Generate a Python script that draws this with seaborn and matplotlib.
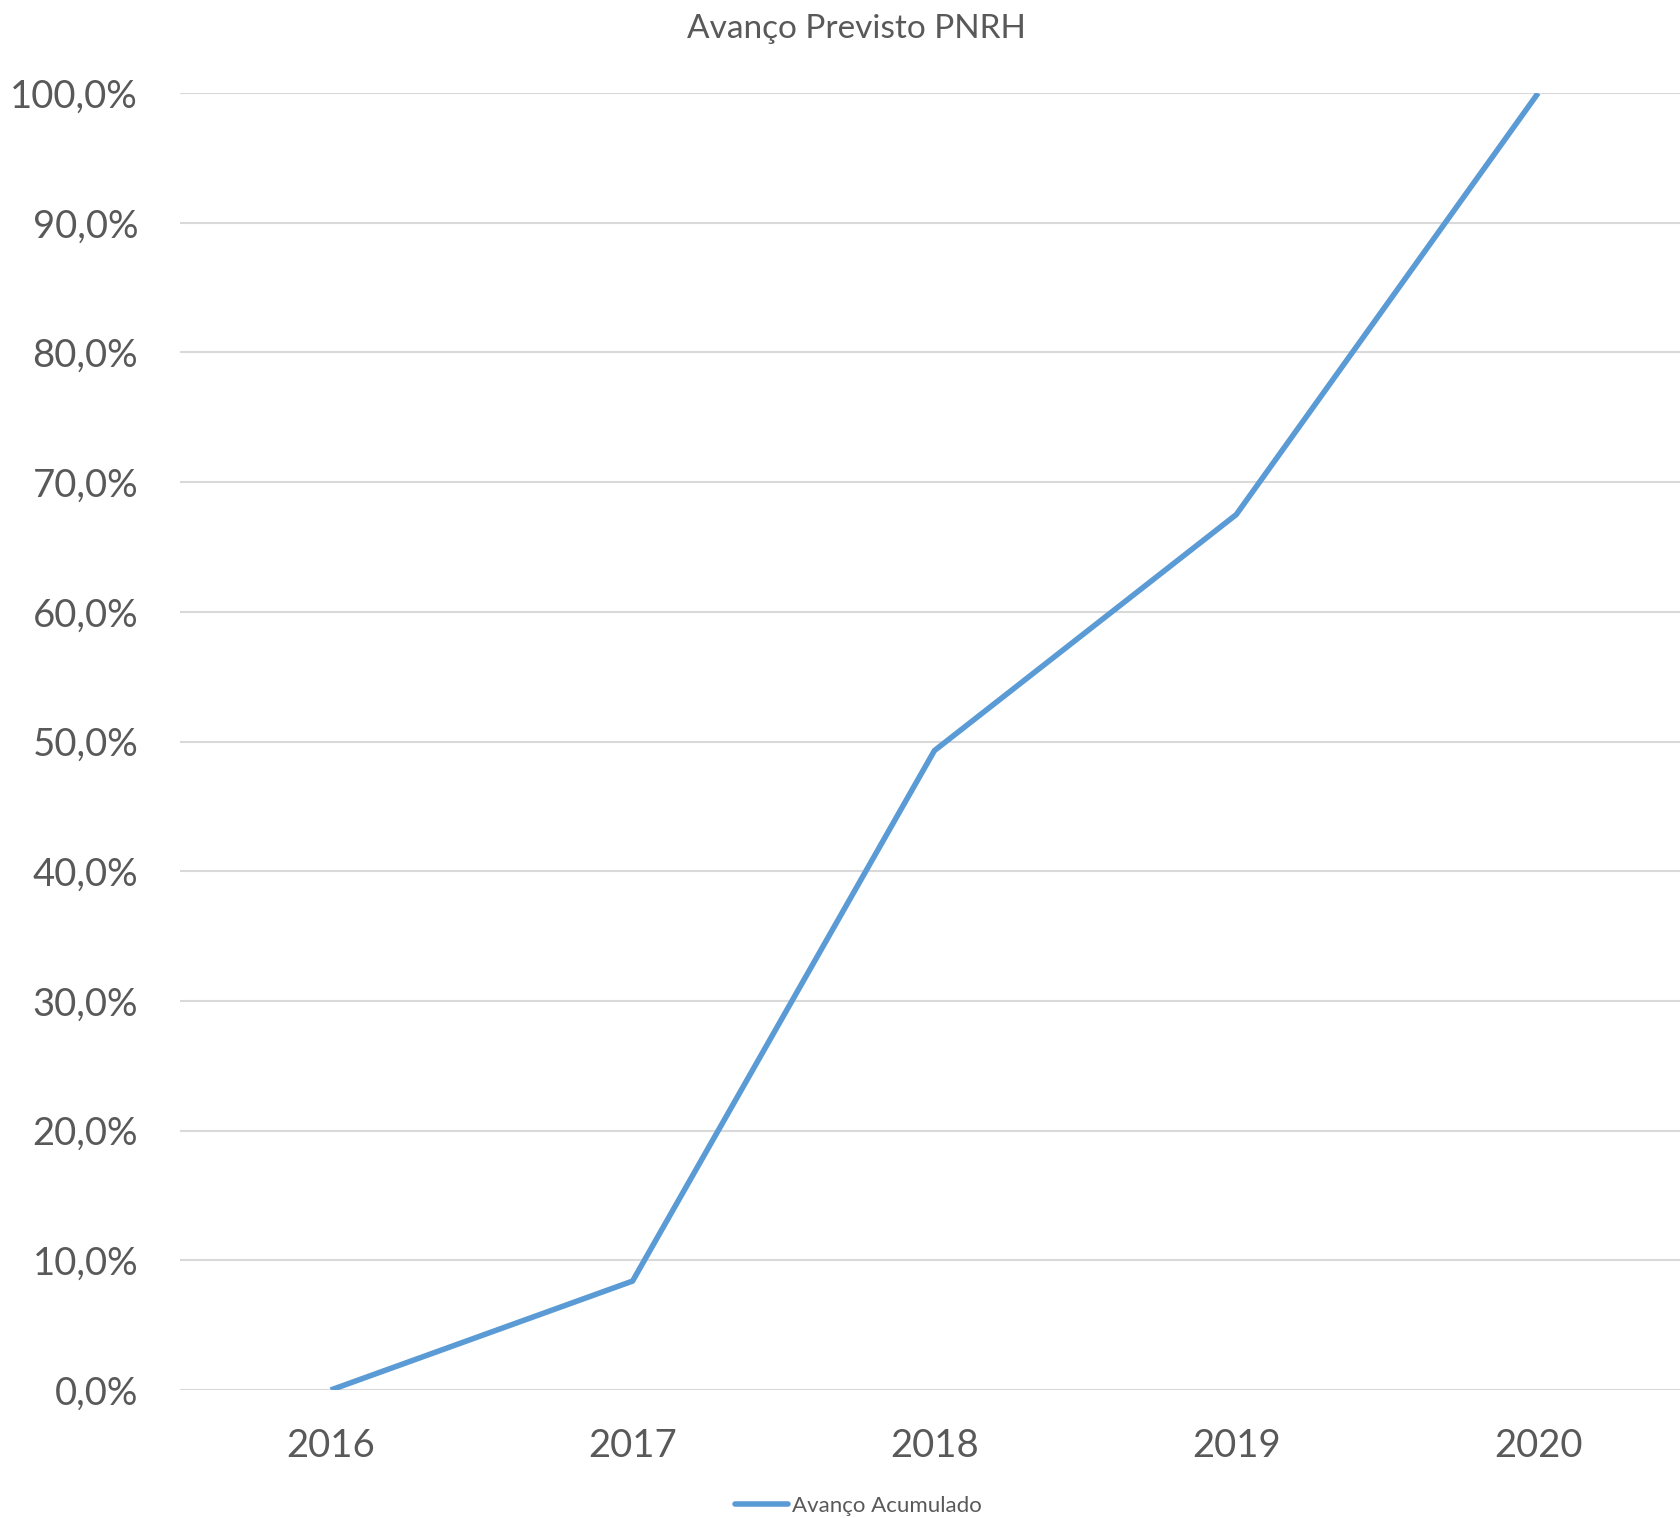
import matplotlib
matplotlib.use("Agg")
import matplotlib.pyplot as plt
import seaborn as sns
import pandas as pd
from matplotlib.ticker import FuncFormatter

sns.set_style("white")
plt.rcParams['font.family'] = ['Lato', 'DejaVu Sans']

# data
years = ['2016', '2017', '2018', '2019', '2020']
avanco = [0.0, 0.084, 0.493, 0.675, 1.0]

df = pd.DataFrame({'ano': years, 'avanco': avanco})
df['pos'] = range(len(years))

TEXT = '#595959'
GRID = '#D9D9D9'
BLUE = '#5B9BD5'

fig = plt.figure(figsize=(16.8, 15.18), dpi=100)
ax = fig.add_axes([0.107, 0.0843, 0.893, 0.8544])

sns.lineplot(data=df, x='pos', y='avanco', ax=ax, color=BLUE, linewidth=4,
             label='Avanço Acumulado', solid_capstyle='butt', legend=False)

ax.set_xlim(-0.5, 4.47)
ax.set_ylim(0, 1.0)
ax.set_yticks([i / 10 for i in range(11)])
ax.yaxis.set_major_formatter(FuncFormatter(lambda v, _: f"{v * 100:.1f}%".replace('.', ',')))
ax.set_xticks(df['pos'])
ax.set_xticklabels(years)

ax.grid(axis='y', color=GRID, linewidth=1.5)
ax.set_axisbelow(True)
for s in ax.spines.values():
    s.set_visible(False)
ax.tick_params(axis='both', length=0, colors=TEXT, labelsize=27.5)
ax.tick_params(axis='x', pad=27)
ax.tick_params(axis='y', pad=30)
ax.set_xlabel('')
ax.set_ylabel('')

fig.text(0.51, 0.981, 'Avanço Previsto PNRH', ha='center', va='center',
         fontsize=24, color=TEXT)

handles = [plt.Line2D([0], [0], color=BLUE, linewidth=4, solid_capstyle='round')]
fig.legend(handles, ['Avanço Acumulado'], loc='center', bbox_to_anchor=(0.511, 0.008),
           frameon=False, fontsize=16, labelcolor=TEXT, handlelength=2.4,
           handletextpad=0.2)

fig.savefig('out.png', dpi=100)
